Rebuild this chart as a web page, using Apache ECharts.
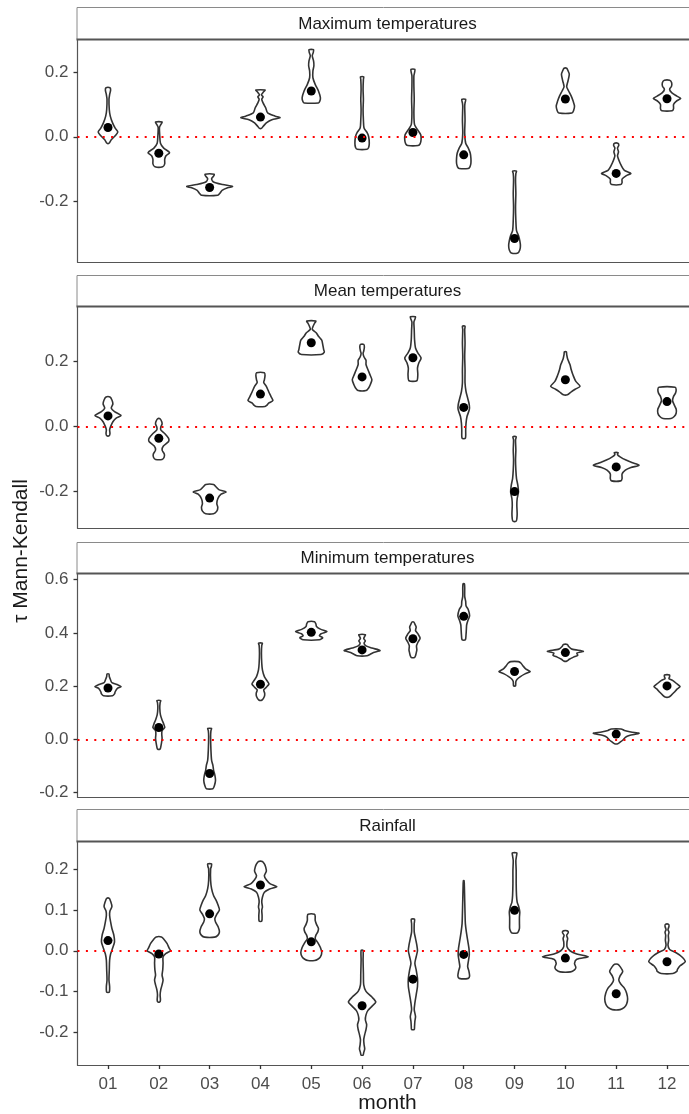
<!DOCTYPE html>
<html>
<head>
<meta charset="utf-8">
<script src="https://cdn.jsdelivr.net/npm/echarts@6/dist/echarts.min.js"></script>
<style>html,body{margin:0;padding:0;background:#fff;overflow:hidden}#c{width:689px;height:1114px}</style>
</head>
<body>
<div id="c"></div>
<script>
// ---------------- DATA ----------------
const months = ['01','02','03','04','05','06','07','08','09','10','11','12'];
const panelTitles = ['Maximum temperatures','Mean temperatures','Minimum temperatures','Rainfall'];

// Violin outlines: per month, list of [tau value, relative density half-width]
const maxTempViolins = [
  [[0.152,6],[0.145,8],[0.131,5],[0.116,3],[0.084,4],[0.064,7],[0.043,14],[0.027,22],[0.015,30],[0.003,22],[-0.009,10],[-0.020,3]],
  [[0.046,10],[0.0375,6],[0.029,2],[0.001,3],[-0.020,5],[-0.035,15],[-0.049,33],[-0.059,22],[-0.070,18],[-0.084,18],[-0.093,12]],
  [[-0.116,14],[-0.122,12],[-0.130,6],[-0.140,12],[-0.148,40],[-0.154,70],[-0.158,55],[-0.166,38],[-0.174,32],[-0.181,25]],
  [[0.145,14],[0.1375,8],[0.130,3],[0.124,8],[0.116,4],[0.105,8],[0.090,16],[0.074,22],[0.064,45],[0.059,60],[0.053,35],[0.043,18],[0.032,8],[0.026,3]],
  [[0.270,7],[0.261,6],[0.251,3],[0.235,7],[0.220,8],[0.204,5],[0.183,5],[0.1625,12],[0.142,22],[0.121,28],[0.110,26],[0.105,22]],
  [[0.186,5],[0.178,4],[0.147,3],[0.116,4],[0.084,3],[0.053,4],[0.027,6],[0.0135,15],[0.001,20],[-0.020,22],[-0.033,20],[-0.0385,15]],
  [[0.209,6],[0.199,5],[0.189,3],[0.157,3],[0.116,4],[0.074,3],[0.0375,5],[0.022,14],[0.006,24],[-0.009,25],[-0.022,22],[-0.027,16]],
  [[0.116,6],[0.105,4],[0.095,3],[0.053,4],[0.011,3],[-0.020,6],[-0.035,14],[-0.051,20],[-0.067,22],[-0.082,22],[-0.093,19],[-0.098,14]],
  [[-0.106,6],[-0.114,4],[-0.134,3],[-0.176,4],[-0.218,3],[-0.259,4],[-0.291,6],[-0.306,12],[-0.322,16],[-0.3375,18],[-0.351,16],[-0.360,10]],
  [[0.2125,4],[0.205,8],[0.194,12],[0.173,8],[0.155,4],[0.142,10],[0.126,18],[0.110,24],[0.095,28],[0.081,25],[0.074,20]],
  [[-0.020,5],[-0.026,8],[-0.035,4],[-0.046,7],[-0.059,4],[-0.072,8],[-0.088,15],[-0.104,25],[-0.1135,45],[-0.121,30],[-0.131,18],[-0.142,18],[-0.148,14]],
  [[0.175,8],[0.168,14],[0.157,14],[0.147,8],[0.136,15],[0.126,30],[0.119,42],[0.110,28],[0.100,20],[0.0875,20],[0.081,16]]
];
const meanTempViolins = [
  [[0.091,6],[0.082,12],[0.070,15],[0.057,10],[0.046,20],[0.034,40],[0.026,25],[0.015,15],[0,8],[-0.010,5],[-0.021,6],[-0.028,4]],
  [[0.024,4],[0.015,9],[0.008,10],[-0.002,6],[-0.010,6],[-0.021,18],[-0.036,30],[-0.046,30],[-0.060,14],[-0.072,10],[-0.085,17],[-0.095,16],[-0.101,10]],
  [[-0.178,12],[-0.186,20],[-0.194,28],[-0.201,50],[-0.208,35],[-0.222,25],[-0.237,22],[-0.249,25],[-0.260,22],[-0.268,12]],
  [[0.166,12],[0.157,14],[0.144,12],[0.136,10],[0.124,18],[0.108,25],[0.093,32],[0.080,38],[0.072,25],[0.066,20],[0.062,14]],
  [[0.325,14],[0.318,10],[0.307,5],[0.299,3],[0.289,15],[0.278,22],[0.266,32],[0.253,35],[0.237,38],[0.229,40],[0.222,30]],
  [[0.253,5],[0.245,7],[0.232,5],[0.225,3],[0.214,6],[0.204,12],[0.191,12],[0.175,18],[0.160,24],[0.144,30],[0.129,25],[0.119,20],[0.111,12]],
  [[0.338,8],[0.330,6],[0.322,3],[0.299,4],[0.268,5],[0.242,8],[0.227,15],[0.211,25],[0.196,18],[0.180,14],[0.160,15],[0.141,12]],
  [[0.309,4],[0.299,3],[0.258,4],[0.2165,3],[0.175,4],[0.134,4],[0.108,7],[0.088,12],[0.067,17],[0.052,17],[0.031,10],[0.010,7],[-0.010,6],[-0.036,5]],
  [[-0.031,5],[-0.041,3],[-0.072,4],[-0.103,3],[-0.134,4],[-0.160,6],[-0.180,10],[-0.201,12],[-0.222,8],[-0.242,7],[-0.268,8],[-0.284,7],[-0.291,5]],
  [[0.230,3],[0.222,4],[0.208,7],[0.191,14],[0.175,18],[0.157,24],[0.139,32],[0.124,45],[0.115,30],[0.107,18],[0.098,6]],
  [[-0.080,6],[-0.086,4],[-0.093,12],[-0.103,30],[-0.111,50],[-0.119,70],[-0.126,45],[-0.134,28],[-0.146,18],[-0.160,18],[-0.167,14]],
  [[0.121,25],[0.113,28],[0.103,26],[0.093,20],[0.080,17],[0.067,22],[0.054,28],[0.041,28],[0.031,22],[0.025,12]]
];
const minTempViolins = [
  [[0.246,3],[0.236,4],[0.223,8],[0.213,12],[0.205,30],[0.198,40],[0.191,28],[0.179,22],[0.171,20],[0.164,14]],
  [[0.146,6],[0.138,4],[0.117,3],[0.092,5],[0.073,10],[0.058,15],[0.045,18],[0.033,10],[0.020,9],[0.004,10],[-0.015,8],[-0.028,6],[-0.036,4]],
  [[0.041,6],[0.033,4],[0.010,3],[-0.040,4],[-0.078,6],[-0.097,10],[-0.115,12],[-0.134,16],[-0.153,18],[-0.172,15],[-0.185,10]],
  [[0.3615,6],[0.353,4],[0.324,3],[0.286,4],[0.261,6],[0.236,12],[0.217,22],[0.208,26],[0.196,18],[0.186,10],[0.173,13],[0.161,12],[0.148,5]],
  [[0.442,10],[0.434,14],[0.424,16],[0.414,28],[0.405,48],[0.397,30],[0.389,25],[0.382,35],[0.374,25]],
  [[0.393,10],[0.387,8],[0.379,5],[0.370,10],[0.3615,6],[0.351,12],[0.343,30],[0.334,55],[0.326,35],[0.320,25],[0.314,15]],
  [[0.4405,3],[0.433,6],[0.422,10],[0.409,8],[0.397,15],[0.380,22],[0.364,15],[0.351,11],[0.336,12],[0.324,10],[0.314,8],[0.308,5]],
  [[0.584,2],[0.569,3],[0.537,3],[0.518,6],[0.502,7],[0.487,14],[0.464,18],[0.447,13],[0.4305,9],[0.412,8],[0.393,7],[0.374,5]],
  [[0.292,12],[0.286,20],[0.276,26],[0.264,35],[0.255,48],[0.246,32],[0.236,18],[0.226,8],[0.217,4],[0.201,3]],
  [[0.3565,6],[0.349,10],[0.339,20],[0.331,55],[0.324,35],[0.316,38],[0.309,25],[0.301,12],[0.294,4]],
  [[0.039,15],[0.034,25],[0.028,45],[0.023,70],[0.015,40],[0.008,28],[-0.003,20],[-0.010,12],[-0.016,5]],
  [[0.242,8],[0.236,8],[0.228,6],[0.221,18],[0.211,28],[0.198,40],[0.188,30],[0.177,22],[0.167,14],[0.159,6]]
];
const rainViolins = [
  [[0.129,4],[0.122,8],[0.109,12],[0.098,6],[0.087,5],[0.071,8],[0.055,12],[0.038,18],[0.022,20],[0.006,14],[-0.008,8],[-0.023,5],[-0.047,4],[-0.072,3],[-0.088,5],[-0.102,4]],
  [[0.034,8],[0.028,16],[0.018,25],[0.006,32],[0,36],[-0.0065,22],[-0.015,13],[-0.031,13],[-0.047,12],[-0.060,10],[-0.072,13],[-0.084,10],[-0.096,6],[-0.109,4],[-0.121,5],[-0.126,3]],
  [[0.214,6],[0.207,5],[0.202,3],[0.173,3],[0.153,6],[0.136,12],[0.124,20],[0.112,26],[0.101,30],[0.090,22],[0.079,16],[0.071,18],[0.059,26],[0.0465,30],[0.038,25],[0.0335,15]],
  [[0.220,6],[0.214,12],[0.206,16],[0.196,18],[0.185,12],[0.175,18],[0.165,30],[0.158,50],[0.152,28],[0.144,12],[0.132,6],[0.120,4],[0.108,6],[0.100,4],[0.087,5],[0.073,4]],
  [[0.090,10],[0.085,12],[0.075,12],[0.065,16],[0.055,22],[0.0465,20],[0.038,14],[0.030,12],[0.020,20],[0.008,28],[-0.005,32],[-0.015,28],[-0.021,20],[-0.024,10]],
  [[0.001,3],[-0.023,3],[-0.056,4],[-0.084,5],[-0.100,12],[-0.114,30],[-0.1265,42],[-0.137,30],[-0.147,18],[-0.158,12],[-0.170,10],[-0.182,14],[-0.194,12],[-0.2065,8],[-0.219,5],[-0.231,6],[-0.242,8],[-0.251,5],[-0.257,3]],
  [[0.0776,5],[0.067,4],[0.0465,4],[0.030,8],[0.014,12],[0,14],[-0.0147,10],[-0.031,6],[-0.047,10],[-0.068,14],[-0.088,14],[-0.1085,10],[-0.129,6],[-0.145,4],[-0.162,8],[-0.174,6],[-0.186,5],[-0.194,4]],
  [[0.173,1],[0.157,2],[0.124,3],[0.0914,4],[0.067,5],[0.0465,8],[0.026,12],[0.0057,16],[-0.0106,17],[-0.027,14],[-0.039,12],[-0.051,16],[-0.062,18],[-0.068,14]],
  [[0.241,7],[0.234,6],[0.222,4],[0.1976,5],[0.165,5],[0.136,6],[0.120,8],[0.108,13],[0.0955,16],[0.083,15],[0.067,15],[0.055,15],[0.048,12],[0.044,8]],
  [[0.049,6],[0.045,9],[0.038,4],[0.030,7],[0.022,5],[0.0098,5],[0,14],[-0.008,35],[-0.0147,70],[-0.021,35],[-0.031,28],[-0.041,32],[-0.047,28],[-0.052,16]],
  [[-0.0335,5],[-0.039,12],[-0.051,20],[-0.062,12],[-0.072,8],[-0.082,14],[-0.092,25],[-0.1045,32],[-0.119,35],[-0.131,32],[-0.1396,25],[-0.145,12]],
  [[0.065,5],[0.060,6],[0.052,3],[0.0457,6],[0.038,4],[0.026,5],[0.014,3],[0.003,8],[-0.005,28],[-0.0147,45],[-0.027,56],[-0.037,40],[-0.046,32],[-0.051,30],[-0.056,18]]
];

// Mean tau per month (black dots)
const maxTempMeans  = [0.029, -0.051, -0.157, 0.061, 0.142, -0.004, 0.0135, -0.056, -0.315, 0.117, -0.1135, 0.118];
const meanTempMeans = [0.033, -0.036, -0.220, 0.100, 0.258, 0.153, 0.212, 0.059, -0.200, 0.144, -0.124, 0.077];
const minTempMeans  = [0.193, 0.045, -0.128, 0.207, 0.402, 0.336, 0.378, 0.462, 0.255, 0.326, 0.020, 0.201];
const rainMeans     = [0.025, -0.008, 0.091, 0.162, 0.022, -0.1355, -0.070, -0.009, 0.0996, -0.018, -0.106, -0.027];

// Axis ranges and tick labels
const yRanges = [[-0.388, 0.300], [-0.312, 0.368], [-0.216, 0.621], [-0.2815, 0.268]];
const yTicks = [[-0.2, 0, 0.2], [-0.2, 0, 0.2], [-0.2, 0, 0.2, 0.4, 0.6], [-0.2, -0.1, 0, 0.1, 0.2]];
const xTicks = [1,2,3,4,5,6,7,8,9,10,11,12];
const xRange = [0.4, 12.6];

// ---------------- LAYOUT ----------------
const violinSets = [maxTempViolins, meanTempViolins, minTempViolins, rainViolins];
const meanSets = [maxTempMeans, meanTempMeans, minTempMeans, rainMeans];
const LEFT = 77.5, PANEL_W = 620;
const panels = [
  {stripTop: 7,   gridTop: 40,  h: 222},
  {stripTop: 275, gridTop: 307, h: 221},
  {stripTop: 542, gridTop: 574, h: 223},
  {stripTop: 809, gridTop: 842, h: 223}
];
const W = 0.45 / 70; // density unit -> x units (max half width 0.45)
const FONT = '"Liberation Sans", Arial, sans-serif';
const AXIS_COL = '#555555';

const grid = [], xAxis = [], yAxis = [], series = [], graphic = [];
panels.forEach((p, i) => {
  const last = i === panels.length - 1;
  grid.push({left: LEFT, top: p.gridTop, width: PANEL_W, height: p.h, show: false,
    containLabel: false, outerBoundsMode: 'none'});
  xAxis.push({
    type: 'value', gridIndex: i, min: xRange[0], max: xRange[1],
    splitLine: {show: false},
    axisLine: {show: true, onZero: false, lineStyle: {color: AXIS_COL, width: 1.2}},
    axisTick: {show: last, customValues: xTicks, length: 4, lineStyle: {color: '#333', width: 1.3}},
    axisLabel: {show: last, customValues: xTicks, margin: 11, color: '#4d4d4d', fontSize: 17, fontFamily: FONT,
      formatter: v => months[Math.round(v) - 1]}
  });
  yAxis.push({
    type: 'value', gridIndex: i, min: yRanges[i][0], max: yRanges[i][1],
    splitLine: {show: false},
    axisLine: {show: true, onZero: false, lineStyle: {color: AXIS_COL, width: 1.2}},
    axisTick: {show: true, customValues: yTicks[i], length: 4, lineStyle: {color: '#333', width: 1.3}},
    axisLabel: {show: true, customValues: yTicks[i], margin: 9, color: '#4d4d4d', fontSize: 17, fontFamily: FONT,
      formatter: v => v.toFixed(1)}
  });
  const profiles = violinSets[i];
  series.push({
    type: 'custom', xAxisIndex: i, yAxisIndex: i, z: 2, silent: true,
    data: profiles.map((_, k) => [xTicks[k], meanSets[i][k]]),
    encode: {x: 0, y: 1},
    renderItem: (params, api) => {
      const prof = profiles[params.dataIndex];
      const cx = api.value(0);
      const right = prof.map(([v, d]) => api.coord([cx + d * W, v]));
      const left = prof.slice().reverse().map(([v, d]) => api.coord([cx - d * W, v]));
      return {type: 'polygon', shape: {points: right.concat(left), smooth: 0.25},
        style: {fill: '#ffffff', stroke: '#333333', lineWidth: 1.6}};
    }
  });
  series.push({
    type: 'scatter', xAxisIndex: i, yAxisIndex: i, z: 3, data: [], silent: true,
    markLine: {silent: true, symbol: 'none', label: {show: false},
      lineStyle: {color: '#ff0000', type: [2, 6.4], width: 2, opacity: 1},
      data: [{yAxis: 0}], animation: false}
  });
  series.push({
    type: 'scatter', xAxisIndex: i, yAxisIndex: i, z: 4, silent: true,
    symbol: 'circle', symbolSize: 9,
    itemStyle: {color: '#000000', opacity: 1},
    data: meanSets[i].map((v, k) => [xTicks[k], v])
  });
  // strip
  graphic.push({type: 'rect', silent: true, z: 10,
    shape: {x: LEFT - 0.5, y: p.stripTop + 0.5, width: PANEL_W + 1, height: p.gridTop - p.stripTop - 1},
    style: {fill: '#ffffff', stroke: '#8a8a8a', lineWidth: 1}});
  graphic.push({type: 'line', silent: true, z: 11,
    shape: {x1: LEFT - 1, y1: p.gridTop - 0.5, x2: LEFT + PANEL_W + 1, y2: p.gridTop - 0.5},
    style: {stroke: '#555555', lineWidth: 2}});
  graphic.push({type: 'text', silent: true, z: 12,
    x: LEFT + PANEL_W / 2, y: (p.stripTop + p.gridTop) / 2 + 0.5,
    style: {text: panelTitles[i], fill: '#1a1a1a', font: '17px ' + FONT, align: 'center', verticalAlign: 'middle'}});
});
graphic.push({type: 'text', silent: true, x: 21, y: 551, rotation: Math.PI / 2,
  style: {text: 'τ Mann-Kendall', fill: '#1a1a1a', font: '21px ' + FONT, align: 'center', verticalAlign: 'middle'}});
graphic.push({type: 'text', silent: true, x: LEFT + PANEL_W / 2, y: 1103,
  style: {text: 'month', fill: '#1a1a1a', font: '21px ' + FONT, align: 'center', verticalAlign: 'middle'}});

const chart = echarts.init(document.getElementById('c'), null, {renderer: 'canvas'});
chart.setOption({animation: false, backgroundColor: '#ffffff', grid, xAxis, yAxis, series, graphic});
</script>
</body>
</html>
